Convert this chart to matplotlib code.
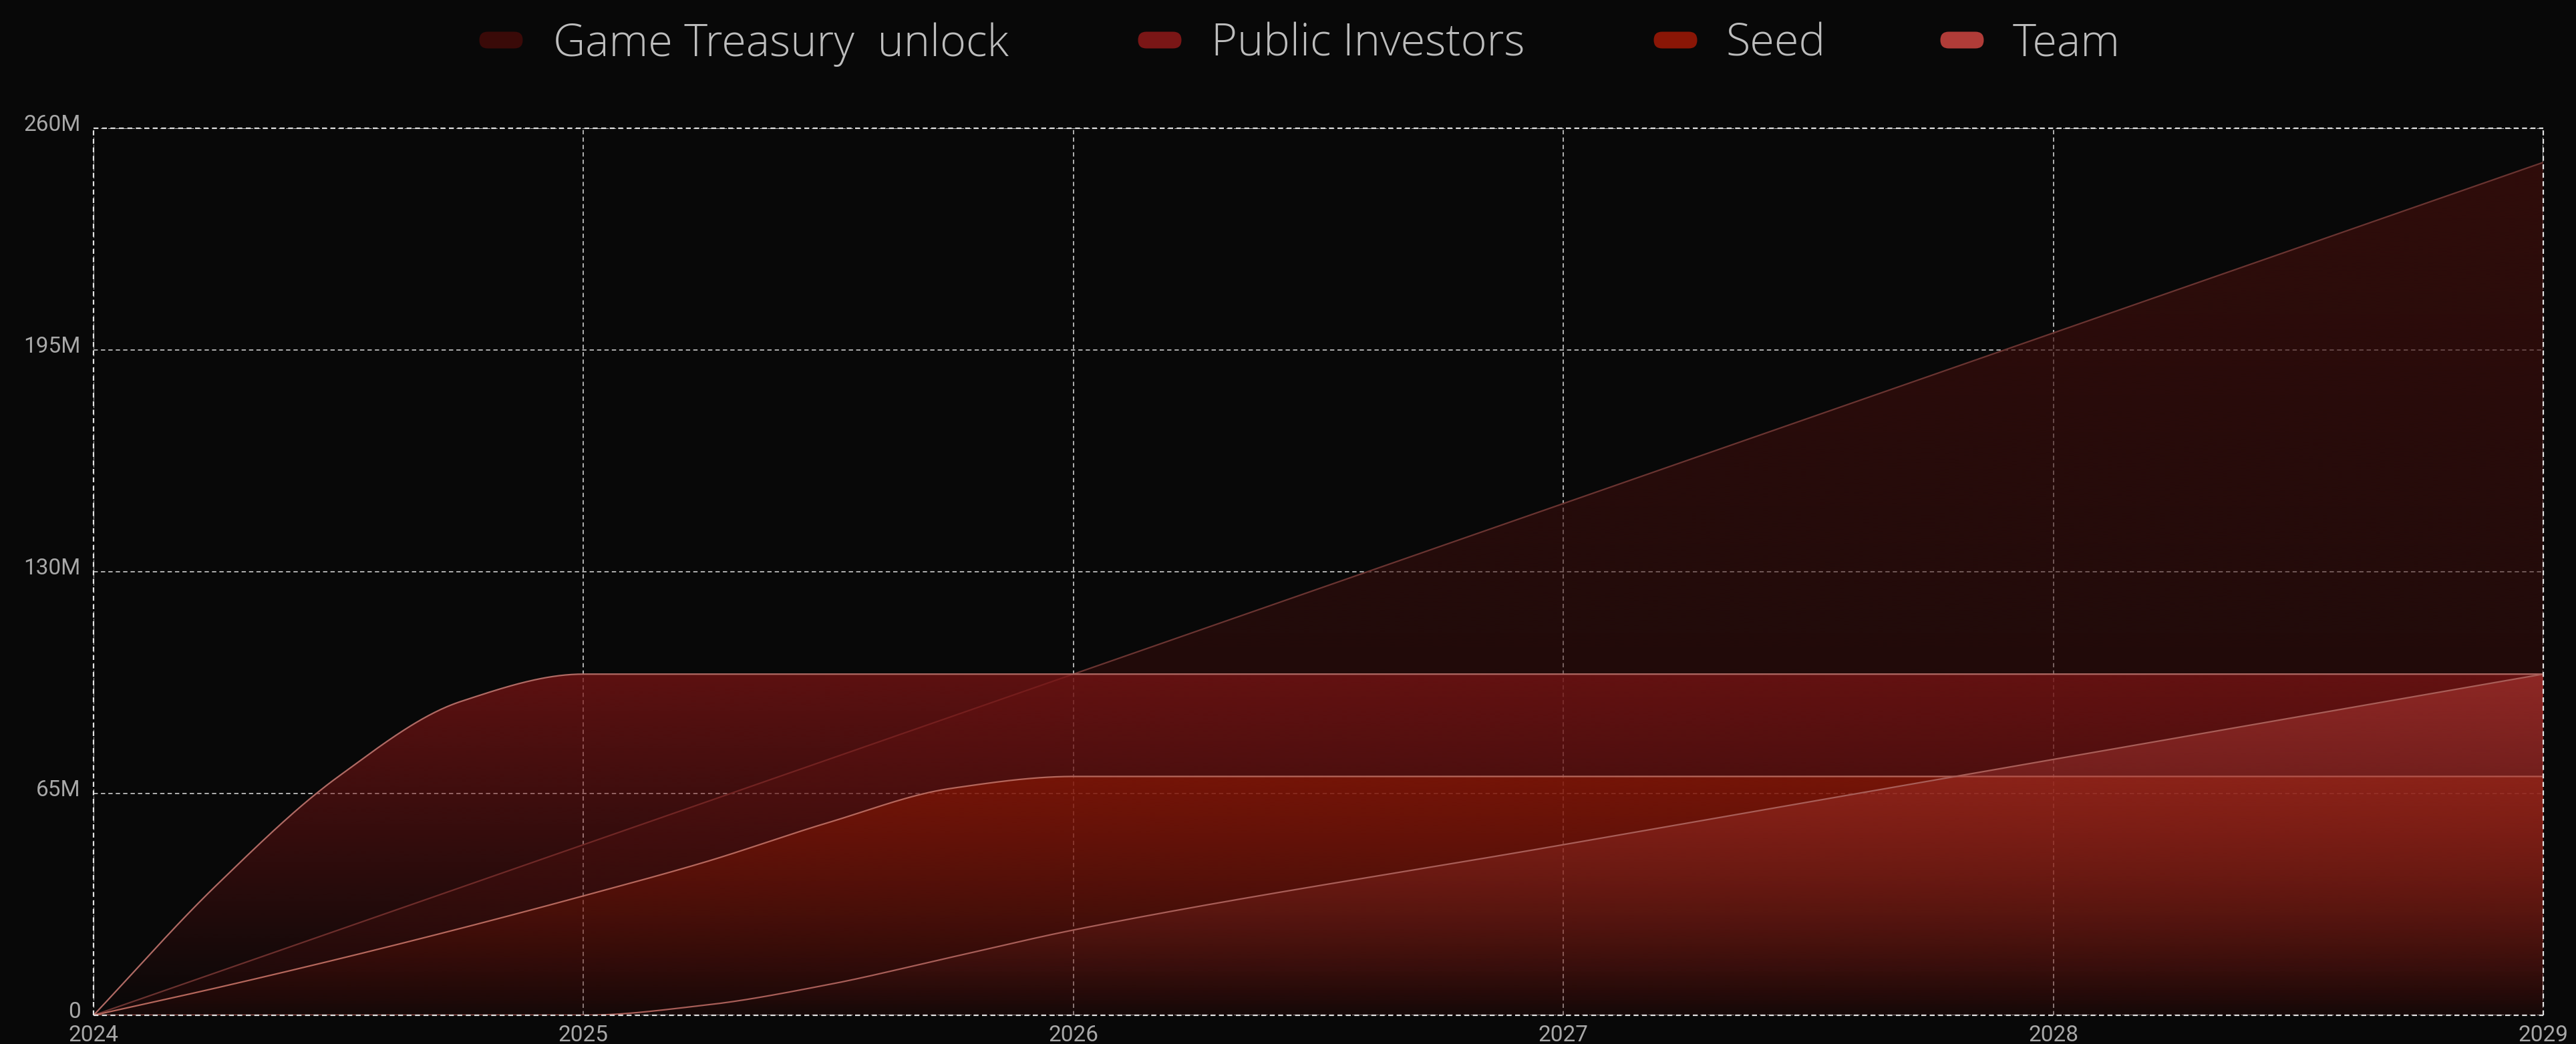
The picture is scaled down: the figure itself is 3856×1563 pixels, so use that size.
import numpy as np
import matplotlib.pyplot as plt
from matplotlib.patches import Polygon, FancyBboxPatch
from matplotlib.transforms import ScaledTranslation
from matplotlib.colors import to_rgb

plt.rcParams['font.family'] = ['Roboto', 'DejaVu Sans']

# values (millions of tokens)
years = [2024, 2024.25, 2024.5, 2024.75, 2025, 2025.25, 2025.5, 2025.75, 2026, 2027, 2028, 2029]
game_treasury = [0, 12.5, 25, 37.5, 50, 62.5, 75, 87.5, 100, 150, 200, 250]
public_investors = [0, 38, 70, 92, 100, 100, 100, 100, 100, 100, 100, 100]
seed = [0, 8, 16.5, 25.5, 35, 45, 56.5, 66.5, 70, 70, 70, 70]
team = [0, 0, 0, 0, 0, 3, 9, 17, 25, 50, 75, 100]

names = ["Game Treasury  unlock", "Public Investors", "Seed", "Team"]
series = [game_treasury, public_investors, seed, team]
fill_colors = ['#3d0e0c', '#7a1414', '#901803', '#b03a35']
line_colors = ['#6a3431', '#b06a64', '#b5675c', '#a85e58']
legend_colors = ['#3a0a08', '#7a1616', '#8a1606', '#b03c38']
alpha_top = [0.75, 0.75, 0.6, 0.55]
alpha_bot = [0.30, 0.0, 0.0, 0.0]

y_ticks = [0, 65, 130, 195, 260]
y_labels = ['0', '65M', '130M', '195M', '260M']
x_ticks = [2024, 2025, 2026, 2027, 2028, 2029]

BG = '#080808'


def smooth(x, y, xs):
    # monotone cubic (chart-style smooth line)
    x = np.asarray(x, float)
    y = np.asarray(y, float)
    h = np.diff(x)
    d = np.diff(y) / h
    n = len(x)
    m = np.zeros(n)
    m[0], m[-1] = d[0], d[-1]
    for k in range(1, n - 1):
        if d[k - 1] * d[k] <= 0:
            m[k] = 0
        else:
            w1 = 2 * h[k] + h[k - 1]
            w2 = h[k] + 2 * h[k - 1]
            m[k] = (w1 + w2) / (w1 / d[k - 1] + w2 / d[k])
    idx = np.clip(np.searchsorted(x, xs) - 1, 0, n - 2)
    t = (xs - x[idx]) / h[idx]
    h00 = 2 * t**3 - 3 * t**2 + 1
    h10 = t**3 - 2 * t**2 + t
    h01 = -2 * t**3 + 3 * t**2
    h11 = t**3 - t**2
    return h00 * y[idx] + h10 * h[idx] * m[idx] + h01 * y[idx + 1] + h11 * h[idx] * m[idx + 1]


fig = plt.figure(figsize=(38.56, 15.63), dpi=100, facecolor=BG)
ax = fig.add_axes([140 / 3856, 1 - 1520 / 1563, (3807 - 140) / 3856, (1520 - 192) / 1563])
ax.set_facecolor(BG)

xs = np.linspace(years[0], years[-1], 1200)
for i, vals in enumerate(series):
    ys = smooth(years, vals, xs)
    ymax = max(vals)
    verts = np.vstack([np.column_stack([xs, ys]), [[xs[-1], 0], [xs[0], 0]]])
    poly = Polygon(verts, closed=True, facecolor='none', edgecolor='none')
    ax.add_patch(poly)
    grad = np.zeros((256, 2, 4))
    grad[:, :, :3] = to_rgb(fill_colors[i])
    grad[:, :, 3] = np.linspace(alpha_bot[i], alpha_top[i], 256)[:, None]
    im = ax.imshow(grad, extent=[years[0], years[-1], 0, ymax], origin='lower',
                   aspect='auto', interpolation='bilinear', zorder=2 + i)
    im.set_clip_path(poly)
    ax.plot(xs, ys, color=line_colors[i], lw=1.6, zorder=2.5 + i)

ax.set_xlim(2024, 2029)
ax.set_ylim(0, 260)
ax.set_xticks(x_ticks)
ax.set_xticklabels([str(x) for x in x_ticks])
ax.set_yticks(y_ticks)
ax.set_yticklabels(y_labels)

dash = (0, (3.3, 2.4))
ax.set_axisbelow(True)
ax.grid(True, color='#cfcfcf', lw=1.4, ls=dash, alpha=0.85)
for s in ax.spines.values():
    s.set_visible(False)
for yv in (0, 260):
    ax.axhline(yv, color='#e2e2e2', lw=1.6, ls=dash, zorder=10, clip_on=False)
for xv in (2024, 2029):
    ax.axvline(xv, color='#e2e2e2', lw=1.6, ls=dash, zorder=10, clip_on=False)

ax.tick_params(length=0, colors='#a8a8a8', labelsize=24)
ax.tick_params(axis='x', pad=10)
ax.tick_params(axis='y', pad=14)
for lbl in ax.get_yticklabels():
    lbl.set_transform(lbl.get_transform() + ScaledTranslation(0, 0.08, fig.dpi_scale_trans))

# legend drawn by hand (pill markers), positions in pixels from top-left
pill_cx = [750, 1736, 2508, 2937]
text_x = [828, 1813, 2583, 3013]
H = 15.63
for i in range(4):
    cx = pill_cx[i] / 100
    cy = H - 60 / 100
    pill = FancyBboxPatch((cx - 0.325, cy - 0.125), 0.65, 0.25,
                          boxstyle="round,pad=0,rounding_size=0.125",
                          transform=fig.dpi_scale_trans, facecolor=legend_colors[i],
                          edgecolor='none')
    fig.patches.append(pill)
    fig.text(text_x[i] / 100, H - 84 / 100, names[i], transform=fig.dpi_scale_trans,
             fontsize=48, fontweight='light', color='#bdbdbd', va='baseline', ha='left',
             family=['Open Sans', 'DejaVu Sans'])

fig.savefig('out.png', dpi=100, facecolor=BG)
